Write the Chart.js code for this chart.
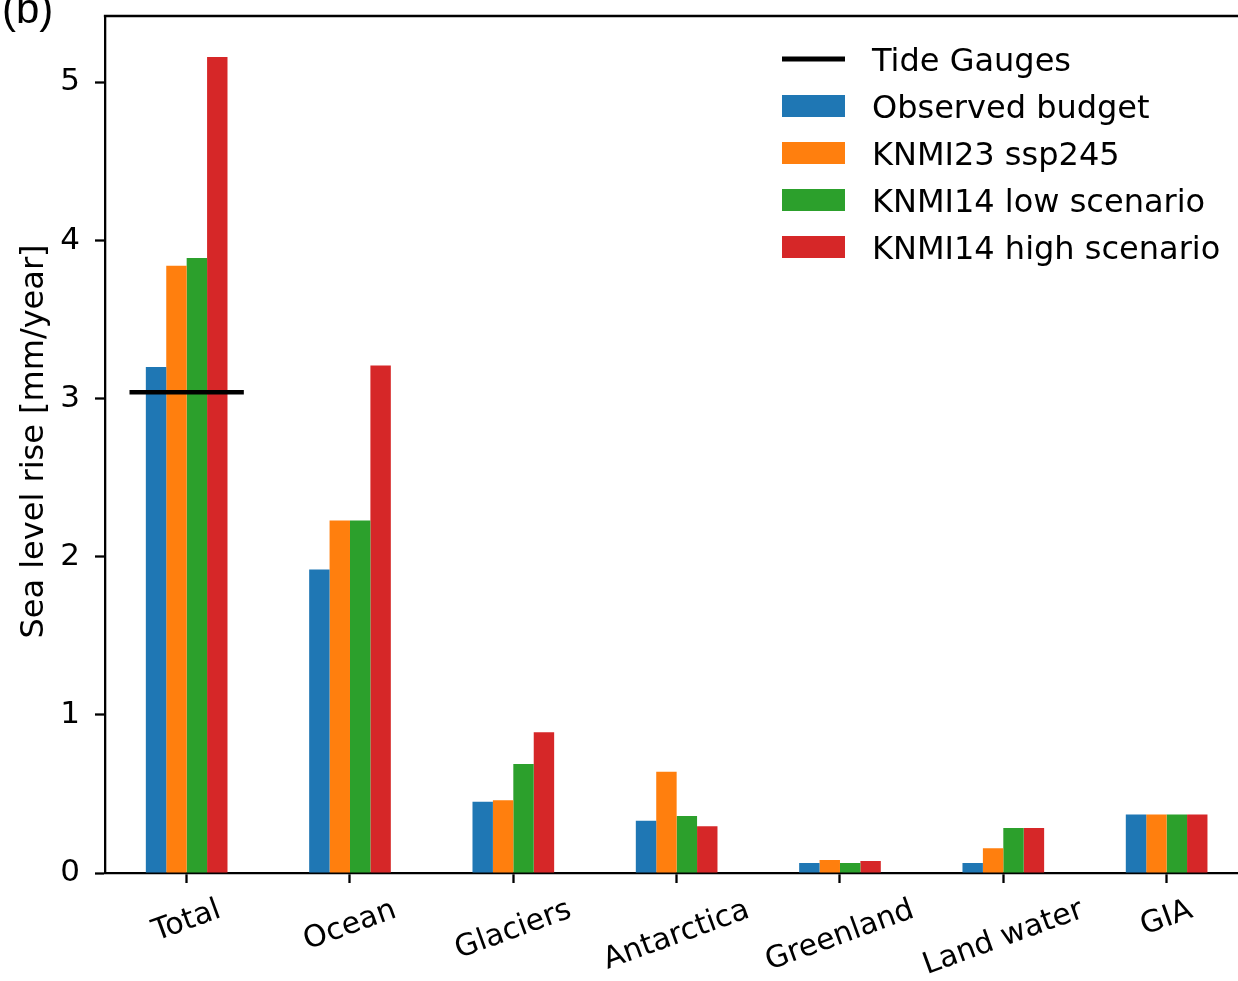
<!DOCTYPE html>
<html>
<head>
<meta charset="utf-8">
<title>Sea level rise budget</title>
<script src="https://cdn.jsdelivr.net/npm/chart.js@4/dist/chart.umd.min.js"></script>
<style>
    html, body { margin: 0; padding: 0; background: #fff; overflow: hidden; }
    #wrap { position: relative; width: 1262px; height: 981px; }
</style>
</head>
<body>
<div id="wrap"><canvas id="budgetChart"></canvas></div>
<script>
// ── Data ──
const categories = ['Total', 'Ocean', 'Glaciers', 'Antarctica', 'Greenland', 'Land water', 'GIA'];
const observedBudget = [3.20, 1.92, 0.45, 0.33, 0.063, 0.063, 0.37];
const knmi23Ssp245 = [3.84, 2.23, 0.46, 0.64, 0.082, 0.156, 0.37];
const knmi14Low = [3.89, 2.23, 0.69, 0.36, 0.063, 0.285, 0.37];
const knmi14High = [5.16, 3.21, 0.89, 0.295, 0.076, 0.285, 0.37];
const tideGauges = 3.04;          // only given for the total
const tideGaugeHalfWidth = 0.35;  // in category units
const yTicks = [0, 1, 2, 3, 4, 5];

const FONT = "'DejaVu Sans', sans-serif";
const COLORS = ['#1f77b4', '#ff7f0e', '#2ca02c', '#d62728'];
const seriesNames = ['Observed budget', 'KNMI23 ssp245', 'KNMI14 low scenario', 'KNMI14 high scenario'];
const seriesValues = [observedBudget, knmi23Ssp245, knmi14Low, knmi14High];

// ── Tide gauge marker: horizontal line over the Total group, placed via the scales ──
const tideGaugeLine = {
    id: 'tideGaugeLine',
    afterDatasetsDraw(chart) {
        const { ctx, scales } = chart;
        const x0 = scales.x.getPixelForValue(0);
        const step = scales.x.getPixelForValue(1) - x0;
        const y = scales.y.getPixelForValue(tideGauges);
        ctx.save();
        ctx.strokeStyle = '#000';
        ctx.lineWidth = 4.6;
        ctx.beginPath();
        ctx.moveTo(x0 - tideGaugeHalfWidth * step, y);
        ctx.lineTo(x0 + tideGaugeHalfWidth * step, y);
        ctx.stroke();
        ctx.restore();
    },
};

// ── Custom drawing: spine, rotated x labels, y title, legend, panel tag ──
const decorations = {
    id: 'decorations',
    afterDraw(chart) {
        const { ctx, chartArea, scales } = chart;
        ctx.save();

        // top spine
        ctx.strokeStyle = '#000';
        ctx.lineWidth = 2.3;
        ctx.beginPath();
        ctx.moveTo(chartArea.left - 1.15, chartArea.top);
        ctx.lineTo(chart.width, chartArea.top);
        ctx.stroke();

        // x tick labels, rotated 20° and centred on the tick
        ctx.fillStyle = '#000';
        ctx.font = `30px ${FONT}`;
        const rot = 20 * Math.PI / 180;
        const lineH = 30 * 1.164;
        categories.forEach((label, i) => {
            const x = scales.x.getPixelForValue(i);
            const w = ctx.measureText(label).width;
            const bboxH = w * Math.sin(rot) + lineH * Math.cos(rot);
            const cy = chartArea.bottom + 20 + bboxH / 2;
            ctx.save();
            ctx.translate(x, cy);
            ctx.rotate(-rot);
            ctx.textAlign = 'center';
            ctx.textBaseline = 'middle';
            ctx.fillText(label, 0, 0);
            ctx.restore();
        });

        // y axis title
        ctx.save();
        ctx.font = `32px ${FONT}`;
        ctx.translate(43, (chartArea.top + chartArea.bottom) / 2 - 3);
        ctx.rotate(-Math.PI / 2);
        ctx.textAlign = 'center';
        ctx.textBaseline = 'alphabetic';
        ctx.fillText('Sea level rise [mm/year]', 0, 0);
        ctx.restore();

        // legend
        const lx = chartArea.left + 677;
        const tx = chartArea.left + 767;
        const rowY = [59, 106, 153, 200, 247];
        ctx.font = `32px ${FONT}`;
        ctx.textAlign = 'left';
        ctx.textBaseline = 'alphabetic';
        ctx.strokeStyle = '#000';
        ctx.lineWidth = 5;
        ctx.beginPath();
        ctx.moveTo(lx, rowY[0]);
        ctx.lineTo(lx + 63, rowY[0]);
        ctx.stroke();
        ctx.fillText('Tide Gauges', tx, rowY[0] + 11.5);
        seriesNames.forEach((name, i) => {
            const y = rowY[i + 1];
            ctx.fillStyle = COLORS[i];
            ctx.fillRect(lx, y - 11, 63, 22);
            ctx.fillStyle = '#000';
            ctx.fillText(name, tx, y + 11.5);
        });

        // panel tag, cut at the top like the source figure
        ctx.font = "42px 'Liberation Sans', sans-serif";
        ctx.fillText('(b)', 2, 23);

        ctx.restore();
    },
};

// ── Chart ──
new Chart(document.getElementById('budgetChart'), {
    type: 'bar',
    data: {
        labels: categories,
        datasets: seriesValues.map((vals, i) => ({
            label: seriesNames[i],
            data: vals,
            backgroundColor: COLORS[i],
            borderWidth: 0,
            categoryPercentage: 0.5,
            barPercentage: 1.0,
        })),
    },
    options: {
        responsive: true,
        maintainAspectRatio: false,
        animation: false,
        layout: { padding: { top: 16, left: 0, right: 13.7, bottom: 0 } },
        plugins: {
            legend: { display: false },
            tooltip: { enabled: false },
        },
        scales: {
            x: {
                offset: true,
                afterFit: (s) => { s.height = 108; s.paddingLeft = 0; s.paddingRight = 0; },
                grid: {
                    offset: false,
                    drawOnChartArea: false,
                    drawTicks: true,
                    tickLength: 10,
                    tickColor: '#000',
                    tickWidth: 2.3,
                },
                border: { display: true, color: '#000', width: 2.3 },
                ticks: { display: false },
            },
            y: {
                min: 0,
                max: 5.42,
                afterFit: (s) => { s.width = 105; s.paddingTop = 0; s.paddingBottom = 0; },
                afterBuildTicks: (s) => { s.ticks = yTicks.map((v) => ({ value: v })); },
                grid: {
                    drawOnChartArea: false,
                    drawTicks: true,
                    tickLength: 10,
                    tickColor: '#000',
                    tickWidth: 2.3,
                },
                border: { display: true, color: '#000', width: 2.3 },
                ticks: {
                    color: '#000',
                    padding: 15,
                    font: { family: FONT, size: 31 },
                },
            },
        },
    },
    plugins: [tideGaugeLine, decorations],
});
</script>
</body>
</html>
